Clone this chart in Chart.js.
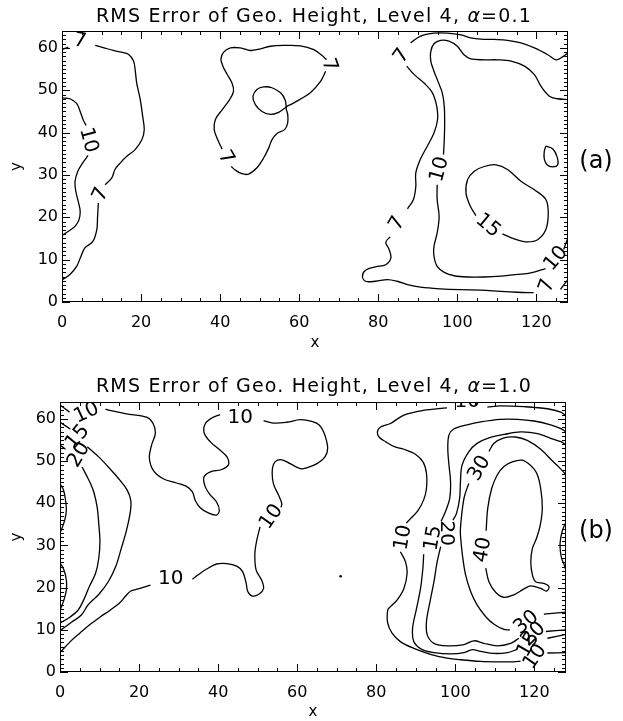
<!DOCTYPE html>
<html>
<head>
<meta charset="utf-8">
<script src="https://cdn.jsdelivr.net/npm/chart.js@4.4.0/dist/chart.umd.min.js"></script>
<style>
  html, body { margin: 0; padding: 0; background: #fff; }
  .panel { position: absolute; left: 0; }
  #panelA { top: 0; }
  #panelB { top: 370px; }
</style>
</head>
<body>
<div class="panel" id="panelA"><canvas id="chartA" width="623" height="360"></canvas></div>
<div class="panel" id="panelB"><canvas id="chartB" width="623" height="351"></canvas></div>
<script>
// axis ticks
const xTicks = [0, 20, 40, 60, 80, 100, 120];
const yTicks = [0, 10, 20, 30, 40, 50, 60];
const xMinorStep = 5;
const yMinorStep = 1;

const titleText = 'RMS Error of Geo. Height, Level 4, ';
const alphaA = '0.1';
const alphaB = '1.0';

// ---- panel (a): alpha = 0.1 ----  (null = gap where a level label sits)
const a7West = [
  [0, 59.6], [1.6, 60.2], null,
  [8.4, 60.6], [10.4, 60.1], [13, 59.4], [15, 59.0], [16.8, 58.5], [18.1, 56.9], [18.5, 54.9],
  [18.9, 51.7], [19.8, 47.8], [20.4, 43.9], [20.8, 40.7], [20.2, 38.3], [18.5, 36.0], [16.4, 34.4],
  [14.7, 32.8], [13.4, 31.3], [12.6, 29.3], [10.9, 27.7], null,
  [9.2, 23.4], [9.0, 20.2], [8.8, 17.1], [7.8, 14.3], [5.8, 12.8], [4.8, 10.8], [3.7, 8.4],
  [2.0, 6.5], [0, 5.2]
];
const a10West = [
  [0, 48.2], [2.0, 48.0], [3.7, 46.9], [4.6, 45.0], [5.4, 42.9], [6.1, 41.7], null,
  [6.6, 34.6], [5.2, 32.8], [4.0, 30.9], [3.3, 28.5], [3.5, 26.1], [4.2, 23.4], [4.6, 21.4],
  [4.3, 19.4], [3.3, 17.9], [1.6, 16.7], [0, 15.7]
];
const a7Mid = [
  [40.5, 36.1], [39.4, 38.3], [38.5, 40.7], [38.8, 43.1], [40.5, 45.4], [42.4, 47.8], [43.4, 49.8],
  [43.0, 51.7], [41.7, 53.9], [40.7, 55.7], [40.2, 57.4], [40.9, 59.0], [42.6, 60.0], [45.1, 60.0],
  [47.7, 59.4], [50.2, 59.8], [52.7, 60.4], [56.1, 60.6], [60.3, 60.5], [63.7, 59.6], [65.8, 58.2],
  [66.9, 57.2], null,
  [66.7, 54.5], [65.4, 52.1], [62.9, 49.5], [60.3, 47.9], [57.8, 46.6], [56.7, 46.0], [57.1, 44.3],
  [57.1, 42.3], [56.3, 40.7], [54.4, 39.8], [53.1, 38.3], [52.3, 36.4], [51.0, 34.0], [49.3, 31.7],
  [47.2, 30.2], [45.5, 30.3], [43.9, 31.1], [42.8, 32.0]
];
const a7Ring = [
  [56.7, 46.0], [54.8, 44.8], [52.7, 44.3], [50.6, 45.0], [48.9, 46.6], [48.3, 48.6], [49.3, 50.2],
  [51.0, 50.8], [53.1, 50.6], [55.3, 49.4], [56.5, 47.6], [56.7, 46.0]
];
const a7East = [
  [128, 58.8], [126.6, 57.9], [125.0, 57.2], [122.9, 58.4], [119.5, 60.0], [116.1, 61.2],
  [112.7, 61.8], [109.3, 62.0], [106.0, 62.1], [103.4, 62.4], [100.9, 63.1], [97.5, 63.5],
  [94.1, 63.5], [90.7, 62.8], [88.2, 61.2], null,
  [87.2, 55.7], [89.1, 53.7], [91.6, 51.7], [93.7, 49.4], [94.8, 46.2], [95.0, 43.1], [94.1, 39.9],
  [92.4, 36.8], [90.6, 33.6], [89.5, 30.5], [89.5, 27.3], [88.9, 24.2], [87.4, 22.0], null,
  [83.0, 15.4], [81.9, 14.1], [82.7, 12.5], [83.2, 10.4], [81.9, 8.8], [79.3, 8.3], [76.8, 7.5],
  [76.0, 6.1], [76.8, 4.9], [79.3, 4.9], [82.3, 5.3], [84.8, 4.9], [87.4, 4.1], [90.7, 3.5],
  [95.8, 3.1], [100.9, 2.9], [106.0, 2.8], [111.0, 2.5], [115.3, 2.3], [119.3, 2.2], null,
  [126.1, 3.0], [128, 5.3]
];
const a10East = [
  [128, 47.8], [125.4, 48.0], [123.3, 48.6], [121.2, 50.9], [119.5, 53.7], [117.0, 55.7],
  [113.6, 56.9], [110.2, 57.2], [106.8, 57.2], [103.4, 57.4], [101.7, 58.4], [100.0, 60.4],
  [97.9, 61.6], [95.8, 61.8], [94.1, 61.0], [93.3, 59.2], [93.3, 56.9], [94.1, 54.5], [95.1, 52.1],
  [96.2, 49.4], [96.7, 46.2], [96.8, 42.3], [96.7, 38.3], [96.5, 34.8], null,
  [94.9, 27.7], [94.9, 24.2], [95.4, 20.2], [94.9, 16.3], [94.1, 13.1], [94.1, 10.8], [94.9, 8.4],
  [96.7, 7.0], [99.2, 6.2], [102.6, 5.9], [106.8, 5.9], [111.0, 6.1], [115.3, 6.5], [118.6, 6.9],
  [122.3, 7.9], null,
  [126.9, 12.4], [128, 15.2]
];
const a15Core = [
  [104.7, 20.4], [103.3, 22.6], [102.2, 25.7], [102.6, 28.9], [104.3, 30.9], [106.8, 32.0],
  [109.8, 32.4], [112.7, 31.3], [116.1, 28.5], [119.5, 26.5], [122.4, 24.2], [123.0, 21.0],
  [122.4, 17.1], [120.3, 14.7], [117.4, 14.2], [114.4, 14.9], [111.4, 16.1]
];
const a15Spot = [
  [122.4, 36.8], [124.1, 36.2], [125.2, 34.4], [125.4, 32.4], [124.1, 31.9], [122.7, 32.4],
  [122.0, 33.8], [122.0, 35.6], [122.4, 36.8]
];
// level labels: [level, x, y]
const labelsA = [
  [7, 4.6, 61.8], [10, 6.9, 38.3], [7, 9.6, 25.5], [7, 41.6, 34.2], [7, 67.8, 56.0],
  [7, 85.8, 58.2], [10, 95.3, 31.4], [7, 84.6, 18.6], [15, 107.9, 18.2], [10, 124.8, 10.4],
  [7, 122.5, 3.9]
];
const anglesA = [10, 75, -65, 60, 70, -55, -75, -60, 40, -50, -70];

// ---- panel (b): alpha = 1.0 ----
const b10West = [
  [0, 63.3], [2.4, 61.6], null,
  [11.5, 62.3], [12.6, 62.0], [16.8, 61.2], [21.9, 60.4], [23.6, 58.8], [24.1, 56.5], [23.2, 53.9],
  [22.6, 50.8], [23.6, 47.8], [26.1, 45.8], [29.5, 44.8], [32.0, 44.0], [33.5, 42.7], [34.2, 40.7],
  [35.4, 39.0], [37.5, 37.7], [39.6, 37.2], [40.3, 38.3], [39.6, 40.3], [37.9, 42.1], [36.7, 44.0],
  [36.4, 46.2], [37.9, 47.4], [40.9, 48.0], [42.6, 49.1], [42.3, 50.9], [40.6, 52.5], [38.1, 54.5],
  [36.5, 56.6], [36.7, 58.8], [38.4, 60.2], [40.5, 61.0], null,
  [51.5, 59.6], [54.0, 59.0], [57.4, 59.2], [60.8, 59.8], [63.7, 59.4], [65.5, 58.6], [66.7, 56.9],
  [67.7, 53.3], [67.1, 51.1], [65.0, 49.4], [62.4, 48.4], [60.8, 48.2], [58.2, 49.4], [56.1, 50.3],
  [54.4, 49.8], [53.7, 47.8], [54.0, 44.6], [55.3, 41.9], [56.1, 39.9], [55.9, 39.0], null,
  [50.6, 34.4], [49.8, 31.3], [49.3, 28.1], [49.6, 24.2], [51.0, 21.8], [51.5, 19.8], [50.4, 18.5],
  [48.7, 18.0], [47.5, 19.1], [47.1, 21.0], [46.2, 23.8], [44.7, 25.1], [42.2, 25.7], [39.6, 25.6],
  [37.1, 24.4], [34.6, 22.8], [33.5, 22.0], null,
  [22.9, 20.6], [19.8, 19.7], [17.9, 19.2], [16.6, 18.0], [15.0, 16.3], [12.6, 14.6], [10.1, 13.0],
  [7.5, 11.2], [5.0, 9.2], [2.6, 7.2], [0, 4.6]
];
const b15West = [
  [0, 59.2], [2.6, 57.6], null,
  [6.9, 53.4], [9.8, 51.0], [12.8, 48.0], [15.3, 45.3], [17.0, 43.1], [17.9, 40.7], [17.8, 38.0],
  [16.8, 33.5], [15.5, 29.3], [14.1, 25.0], [12.2, 21.4], [9.9, 18.5], [7.1, 15.9], [5.4, 13.5],
  [2.9, 11.8], [0, 9.8]
];
const b20West = [
  [0, 53.8], [1.4, 52.8], null,
  [5.6, 48.6], [6.7, 46.6], [7.8, 44.5], [8.6, 42.5], [9.4, 39.1], [9.8, 35.2], [10.1, 30.9],
  [9.8, 26.9], [9.0, 23.4], [7.4, 20.2], [6.0, 17.1], [4.6, 14.7], [2.5, 13.0], [0, 11.6]
];
const b30EdgeN = [
  [0, 44.6], [0.9, 43.1], [1.4, 40.7], [1.6, 38.3], [1.2, 36.0], [0.3, 33.6], [0, 33.1]
];
const b30EdgeS = [
  [0, 25.9], [1.0, 24.2], [1.6, 21.8], [1.6, 19.4], [1.0, 17.1], [0.2, 15.1], [0, 14.8]
];
const b10East = [
  [128, 60.7], [126.7, 61.6], [123.3, 62.4], [117.4, 62.9], [111.4, 63.1], [108.1, 62.8], null,
  [97.9, 62.6], [91.9, 62.0], [87.0, 60.9], [83.6, 58.9], [81.0, 58.0], [80.3, 56.9], [80.7, 55.7],
  [82.5, 54.5], [84.6, 53.4], [87.0, 52.8], [89.9, 51.6], [91.9, 49.7], [92.7, 47.1], [92.7, 43.5],
  [92.0, 40.8], [90.5, 38.2], [88.6, 36.3], [87.6, 35.3], null,
  [86.1, 28.5], [87.4, 26.1], [87.8, 23.4], [87.0, 19.8], [85.3, 17.1], [83.6, 15.5], [82.9, 14.7],
  [82.9, 11.6], [84.0, 9.2], [86.1, 7.2], [89.5, 5.6], [93.7, 4.2], [97.9, 3.3], [101.3, 2.9],
  [106.4, 2.5], [111.4, 2.4], [114.8, 2.4], [116.5, 2.6], null,
  [123.3, 4.5], [128, 4.6]
];
const b15East = [
  [128, 56.9], [126.7, 57.7], [124.1, 58.6], [119.9, 59.5], [115.7, 59.9], [111.4, 59.9],
  [106.4, 59.3], [103.0, 58.6], [99.6, 57.6], [98.4, 56.2], [98.1, 53.0], [98.4, 49.0], [98.8, 45.1],
  [98.6, 41.2], [97.5, 38.0], [96.4, 35.7], null,
  [92.0, 27.9], [91.8, 24.6], [91.2, 19.8], [90.2, 15.1], [89.2, 10.4], [89.5, 7.2], [91.6, 5.3],
  [94.6, 4.6], [98.8, 4.3], [102.2, 4.6], [104.3, 5.3], [106.4, 4.9], [109.8, 4.4], [113.2, 4.6],
  [115.5, 5.3], null,
  [123.3, 8.0], [128, 8.9]
];
const b20East = [
  [128, 53.8], [126.7, 54.6], [124.1, 55.4], [120.8, 56.5], [116.5, 56.9], [112.3, 56.3],
  [108.5, 55.5], [105.5, 54.2], [103.4, 52.2], [101.7, 49.0], [101.3, 45.1], [101.1, 41.2],
  [100.3, 37.6], [99.4, 36.0], null,
  [96.3, 29.7], [95.4, 26.1], [94.6, 21.4], [93.6, 16.7], [92.7, 11.9], [92.9, 8.8], [94.6, 6.8],
  [98.0, 6.2], [102.2, 6.5], [104.7, 7.4], [107.2, 6.8], [110.6, 6.2], [114.0, 6.8], [116.1, 8.0], null,
  [122.9, 9.6], [128, 10.0]
];
const b30East = [
  [128, 46.7], [126.7, 48.1], [124.6, 50.0], [121.6, 52.8], [118.2, 54.9], [115.2, 55.7],
  [112.3, 55.5], [109.8, 54.2], [108.5, 52.3], null,
  [103.4, 44.7], [102.3, 41.6], [101.7, 38.0], [101.3, 34.1], [101.3, 32.4], [101.8, 27.7],
  [102.6, 23.0], [103.9, 19.0], [105.5, 15.9], [107.7, 13.1], [109.8, 11.3], [112.3, 10.1],
  [113.8, 10.0], null,
  [122.4, 13.7], [128, 14.2]
];
const b40Core = [
  [107.7, 24.6], [108.5, 21.4], [110.2, 18.9], [112.3, 17.7], [114.8, 18.3], [117.4, 19.7],
  [119.1, 20.4], [121.6, 19.8], [123.1, 19.2], [123.7, 20.2], [122.4, 21.0], [120.3, 21.4],
  [119.5, 23.0], [119.1, 26.1], [119.5, 29.3], [120.5, 31.6], [121.5, 34.9], [122.0, 38.8],
  [121.6, 43.5], [120.6, 47.1], [119.0, 49.0], [116.9, 50.2], [114.4, 49.8], [112.3, 48.7],
  [110.6, 46.7], [109.2, 43.5], [108.2, 38.8], [107.8, 33.5]
];
const b30EdgeE = [
  [128, 35.5], [127.1, 33.6], [126.5, 30.5], [126.8, 27.3], [127.7, 25.0], [128, 24.0]
];
const bSpot = [[71.0, 22.7]];
const labelsB = [
  [10, 6.6, 61.6], [15, 4.3, 55.8], [20, 4.6, 51.6],
  [10, 45.6, 60.6], [10, 53.3, 36.9], [10, 28.0, 22.3],
  [10, 103.0, 64.3], [10, 86.6, 31.9], [15, 94.2, 31.8], [20, 97.9, 32.9],
  [30, 105.9, 48.4], [40, 106.8, 29.0],
  [30, 117.8, 11.9], [20, 119.6, 9.1], [15, 118.3, 6.6], [10, 120.0, 3.7]
];
const anglesB = [-25, -50, -60, 0, -55, 0, 0, -80, -80, 90, -60, -80, -40, -45, -60, -55];

const contoursA = [[7, a7West], [10, a10West], [7, a7Mid], [7, a7Ring], [7, a7East],
  [10, a10East], [15, a15Core], [15, a15Spot]];
const contoursB = [[10, b10West], [15, b15West], [20, b20West], [30, b30EdgeN], [30, b30EdgeS],
  [10, b10East], [15, b15East], [20, b20East], [30, b30East], [40, b40Core], [30, b30EdgeE]];

const FONT = 'DejaVu Sans';
const toPoints = arr => arr.map(p => p ? { x: p[0], y: p[1] } : { x: null, y: null });

function range(step, max) {
  const out = [];
  for (let v = 0; v <= max; v += step) out.push(v);
  return out;
}

// IDL-style boxed frame with inward ticks on all four sides
const frameTicks = {
  id: 'frameTicks',
  afterDatasetsDraw(chart) {
    const { ctx, chartArea: a, scales: { x, y } } = chart;
    ctx.save();
    ctx.strokeStyle = '#000';
    ctx.lineWidth = 1;
    ctx.strokeRect(a.left + 0.5, a.top + 0.5, a.width - 1, a.height - 1);
    ctx.beginPath();
    range(xMinorStep, 128).forEach(v => {
      const px = Math.round(x.getPixelForValue(v)) + 0.5;
      const len = xTicks.includes(v) ? 8 : 4;
      ctx.moveTo(px, a.bottom); ctx.lineTo(px, a.bottom - len);
      ctx.moveTo(px, a.top); ctx.lineTo(px, a.top + len);
    });
    range(yMinorStep, 64).forEach(v => {
      const py = Math.round(y.getPixelForValue(v)) + 0.5;
      const len = yTicks.includes(v) ? 8 : 4;
      ctx.moveTo(a.left, py); ctx.lineTo(a.left + len, py);
      ctx.moveTo(a.right, py); ctx.lineTo(a.right - len, py);
    });
    ctx.stroke();
    ctx.restore();
  }
};

function buildPanel(canvasId, spec) {
  const datasets = spec.contours.map(([level, pts]) => ({
    label: String(level),
    data: toPoints(pts),
    showLine: true,
    spanGaps: false,
    pointRadius: 0,
    borderColor: '#000',
    borderWidth: 1.3,
    tension: 0.35
  }));
  if (spec.spots) {
    datasets.push({
      label: 'spot',
      data: toPoints(spec.spots),
      showLine: false,
      pointRadius: 1.3,
      pointBorderWidth: 0,
      pointBackgroundColor: '#000'
    });
  }

  const levelLabels = {
    id: 'levelLabels',
    afterDatasetsDraw(chart) {
      const { ctx, chartArea: a, scales: { x, y } } = chart;
      ctx.save();
      ctx.beginPath();
      ctx.rect(a.left, a.top, a.width, a.height);
      ctx.clip();
      ctx.font = '20px "' + FONT + '"';
      ctx.fillStyle = '#000';
      ctx.textAlign = 'center';
      ctx.textBaseline = 'middle';
      spec.labels.forEach(([level, lx, ly], i) => {
        ctx.save();
        ctx.translate(x.getPixelForValue(lx), y.getPixelForValue(ly));
        ctx.rotate(spec.angles[i] * Math.PI / 180);
        ctx.fillText(String(level), 0, 1);
        ctx.restore();
      });
      ctx.restore();
    }
  };

  // title with italic alpha, plus the panel tag on the right
  const heading = {
    id: 'heading',
    afterDraw(chart) {
      const ctx = chart.ctx;
      const normal = '19px "' + FONT + '"';
      const italic = 'italic 19px "' + FONT + '"';
      const parts = [[titleText, normal], ['α', italic], ['=' + spec.alpha, normal]];
      ctx.save();
      ctx.fillStyle = '#000';
      ctx.textBaseline = 'alphabetic';
      ctx.letterSpacing = '1.2px';
      let total = 0;
      parts.forEach(([t, f]) => { ctx.font = f; total += ctx.measureText(t).width; });
      let cx = 314 - total / 2;
      parts.forEach(([t, f]) => {
        ctx.font = f;
        ctx.fillText(t, cx, 22);
        cx += ctx.measureText(t).width;
      });
      ctx.letterSpacing = '0px';
      ctx.font = '24px "' + FONT + '"';
      ctx.textAlign = 'center';
      ctx.textBaseline = 'middle';
      ctx.fillText(spec.tag, 596, 162);
      ctx.restore();
    }
  };

  const tickFont = { family: FONT, size: 16 };
  new Chart(document.getElementById(canvasId), {
    type: 'scatter',
    data: { datasets },
    options: {
      responsive: false,
      animation: false,
      events: [],
      layout: { padding: { left: 0, top: spec.top, right: 623 - spec.right, bottom: 0 } },
      plugins: { legend: { display: false }, tooltip: { enabled: false }, title: { display: false } },
      scales: {
        x: {
          type: 'linear', min: 0, max: 128,
          grid: { display: false, drawTicks: false },
          border: { display: false },
          afterBuildTicks: s => { s.ticks = xTicks.map(v => ({ value: v })); },
          afterFit: s => { s.height = spec.xHeight; },
          ticks: { font: tickFont, color: '#000', padding: 11, maxRotation: 0, autoSkip: false },
          title: { display: true, text: 'x', font: { family: FONT, size: 15 }, color: '#000',
                   padding: { top: 0, bottom: spec.xTitlePad } }
        },
        y: {
          type: 'linear', min: 0, max: 64,
          grid: { display: false, drawTicks: false },
          border: { display: false },
          afterBuildTicks: s => { s.ticks = yTicks.map(v => ({ value: v })); },
          afterFit: s => { s.width = spec.left; },
          ticks: { font: tickFont, color: '#000', padding: 4, autoSkip: false },
          title: { display: true, text: 'y', font: { family: FONT, size: 15 }, color: '#000',
                   padding: { top: 8, bottom: 0 } }
        }
      }
    },
    plugins: [frameTicks, levelLabels, heading]
  });
}

buildPanel('chartA', {
  contours: contoursA, labels: labelsA, angles: anglesA, alpha: alphaA, tag: '(a)',
  left: 62, right: 568, top: 31, xHeight: 58, xTitlePad: 8
});
buildPanel('chartB', {
  contours: contoursB, labels: labelsB, angles: anglesB, spots: bSpot, alpha: alphaB, tag: '(b)',
  left: 60, right: 566, top: 32, xHeight: 49, xTitlePad: 0
});
</script>
</body>
</html>
